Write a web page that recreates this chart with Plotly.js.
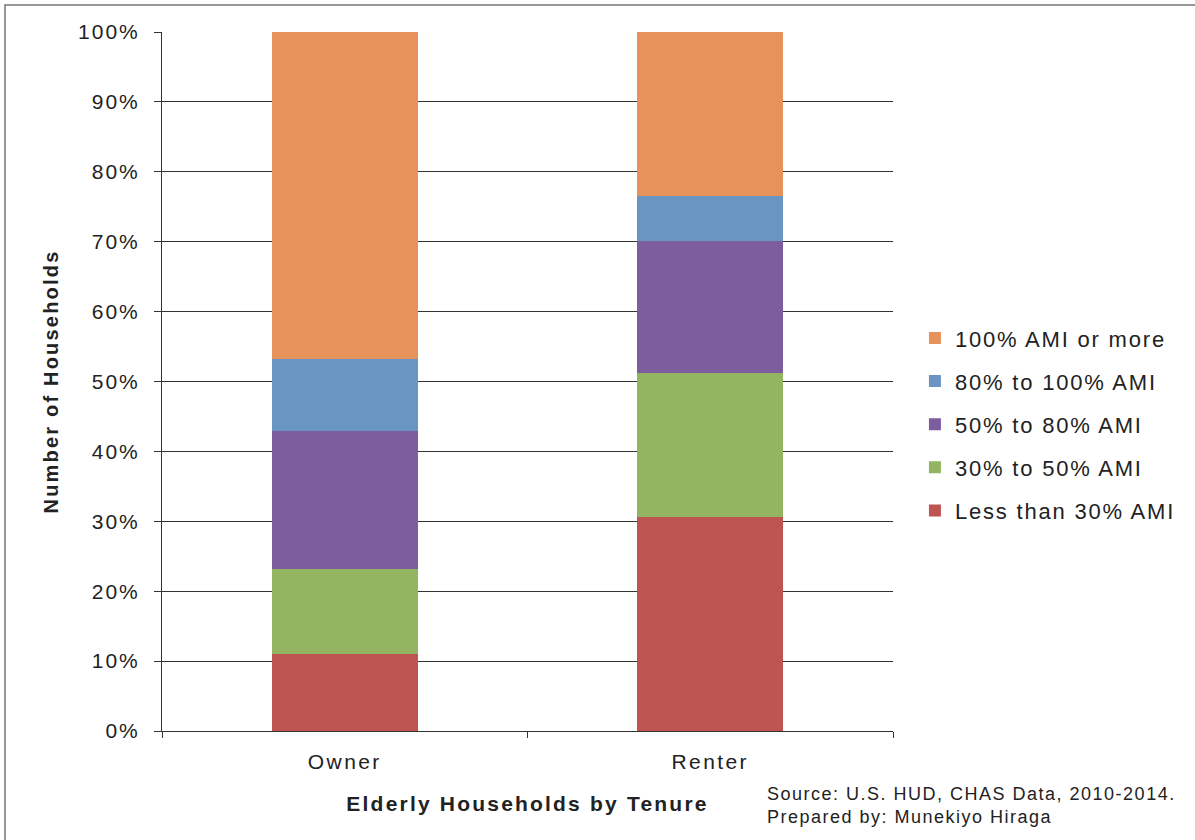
<!DOCTYPE html>
<html>
<head>
<meta charset="utf-8">
<script src="https://cdn.plot.ly/plotly-3.0.1.min.js"></script>
<style>
html, body { margin: 0; padding: 0; background: #fff; }
#chart { width: 1195px; height: 840px; }
.ytick text { letter-spacing: 2px; }
.xtick text { letter-spacing: 2.4px; }
text.legendtext { letter-spacing: 1.8px; }
.g-xtitle text, .g-ytitle text { letter-spacing: 2.2px; }
text.annotation-text { letter-spacing: 1.5px; }
</style>
</head>
<body>
<div id="chart"></div>
<script>
const categories = ["Owner", "Renter"];
const seriesNames = ["Less than 30% AMI", "30% to 50% AMI", "50% to 80% AMI", "80% to 100% AMI", "100% AMI or more"];
const lessThan30 = [11.0, 30.6];
const from30to50 = [12.2, 20.6];
const from50to80 = [19.7, 18.9];
const from80to100 = [10.3, 6.4];
const over100 = [46.8, 23.5];
const yTickVals = [0, 10, 20, 30, 40, 50, 60, 70, 80, 90, 100];
const yTickText = ["0%", "10%", "20%", "30%", "40%", "50%", "60%", "70%", "80%", "90%", "100%"];
const colors = ["#BE5553", "#93B460", "#7C5E9E", "#6A95C2", "#E6935B"];

const values = [lessThan30, from30to50, from50to80, from80to100, over100];
const traces = values.map((v, i) => ({
  type: "bar",
  x: categories,
  y: v,
  name: seriesNames[i],
  legendgroup: "g" + i,
  legendrank: 1000 + (values.length - i),
  marker: { color: colors[i], line: { width: 0 } },
  hoverinfo: "name+y"
}));

const font = "Arial, 'Liberation Sans', sans-serif";
const layout = {
  width: 1195,
  height: 840,
  barmode: "stack",
  bargap: 0.6,
  paper_bgcolor: "#ffffff",
  plot_bgcolor: "#ffffff",
  margin: { l: 162, r: 302, t: 32, b: 109 },
  font: { family: font, color: "#222", size: 20 },
  xaxis: {
    type: "category",
    showline: true,
    linecolor: "#333",
    linewidth: 1,
    ticks: "outside",
    tickson: "boundaries",
    ticklen: 6,
    tickcolor: "#333",
    ticklabelstandoff: 12,
    tickfont: { size: 21, family: font, color: "#222" },
    title: { text: "<b>Elderly Households by Tenure</b>", font: { size: 21, family: font, color: "#222" }, standoff: 24 },
    automargin: false
  },
  yaxis: {
    range: [0, 100],
    tickvals: yTickVals,
    ticktext: yTickText,
    showgrid: true,
    gridcolor: "#333",
    gridwidth: 1,
    showline: true,
    linecolor: "#333",
    linewidth: 1,
    ticks: "outside",
    ticklen: 7,
    tickcolor: "#333",
    ticklabelstandoff: 10,
    tickfont: { size: 21, family: font, color: "#222" },
    title: { text: "<b>Number of Households</b>", font: { size: 20, family: font, color: "#222" }, standoff: 14 },
    zeroline: false,
    automargin: false
  },
  legend: {
    x: 1.030,
    xanchor: "left",
    y: 0.592,
    yanchor: "top",
    traceorder: "grouped",
    tracegroupgap: 11.5,
    font: { size: 22, family: font, color: "#222" },
    bgcolor: "rgba(0,0,0,0)",
    itemwidth: 30
  },
  annotations: [{
    xref: "paper", yref: "paper",
    x: (765 - 162) / 731, y: -0.0734,
    xanchor: "left", yanchor: "top",
    align: "left",
    showarrow: false,
    text: "Source: U.S. HUD, CHAS Data, 2010-2014.<br>Prepared by: Munekiyo Hiraga",
    font: { size: 18, family: font, color: "#222" }
  }],
  shapes: [{
    type: "rect",
    xref: "paper", yref: "paper",
    x0: (5 - 162) / 731, x1: (1210 - 162) / 731,
    y0: -0.2, y1: (731 - 5) / 699,
    line: { color: "#777", width: 1.5 },
    fillcolor: "rgba(0,0,0,0)",
    layer: "below"
  }]
};

Plotly.newPlot("chart", traces, layout, { displayModeBar: false, staticPlot: true });
</script>
</body>
</html>
